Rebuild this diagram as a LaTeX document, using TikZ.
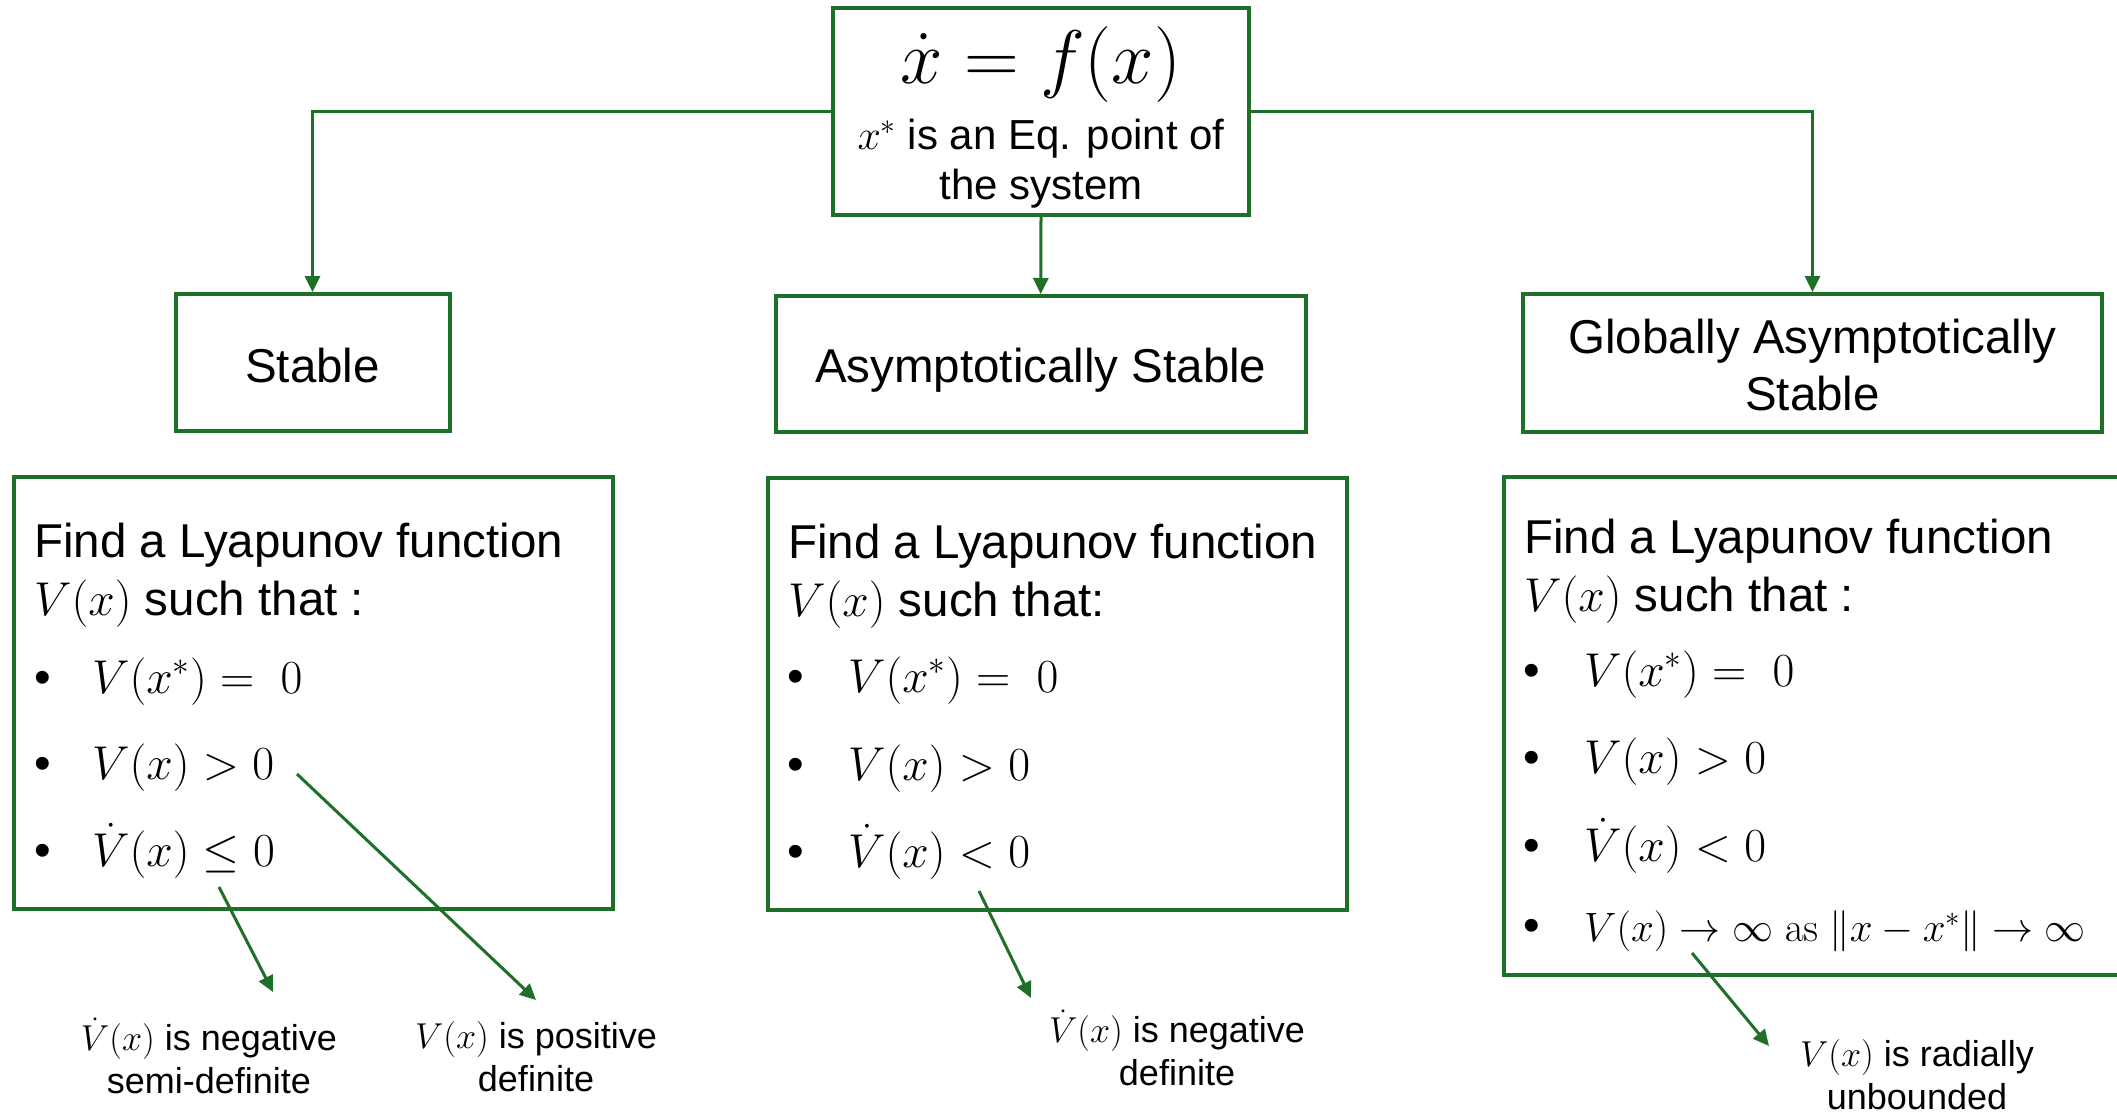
\RequirePackage{fix-cm}
\documentclass[tikz,border=0pt]{standalone}
\usepackage[no-math]{fontspec}
\setmainfont{Liberation Sans}
\usetikzlibrary{arrows.meta}
\definecolor{dgreen}{RGB}{30,112,40}
\newcommand\fmain{\fontsize{47.5}{57}\selectfont}
\newcommand\fsub{\fontsize{42}{50}\selectfont}
\newcommand\flab{\fontsize{36}{43}\selectfont}
\newcommand\feq{\fontsize{76}{88}\selectfont}
\newcommand\fsmall{\fontsize{41}{50}\selectfont}
\begin{document}
\begin{tikzpicture}[x=1pt,y=-1pt,
  gbox/.style={draw=dgreen, line width=4pt, inner sep=0pt},
  conn/.style={draw=dgreen, line width=3pt, -{Triangle[length=16pt,width=15pt]}},
  txt/.style={inner sep=0pt, anchor=base west, font=\fmain},
  bul/.style={inner sep=0pt, anchor=base, font=\fmain},
  lab/.style={inner sep=0pt, align=center, font=\flab}]
\useasboundingbox (0,0) rectangle (2117,1116);
\fill[white] (0,0) rectangle (2117,1116);

% top box
\node[gbox, minimum width=416pt, minimum height=207pt] (top) at (1041,111.5) {};
\node[inner sep=0pt, font=\feq] (eq) at (1041,65) {$\dot x = f(x)$};
\node[inner sep=0pt, align=center, font=\fsub] (eqp) at (1041,164) {$x^*$ is an Eq. point of\\the system};

% category boxes
\node[gbox, minimum width=274pt, minimum height=137pt] (st) at (312.5,362.5) {};
\node[inner sep=0pt, font=\fmain] (stt) at (312.5,366) {Stable};
\node[gbox, minimum width=529.5pt, minimum height=136pt] (as) at (1040.75,364) {};
\node[inner sep=0pt, font=\fmain] (ast) at (1040.75,370) {Asymptotically Stable};
\node[gbox, minimum width=579pt, minimum height=138pt] (gas) at (1812.5,363) {};
\node[inner sep=0pt, font=\fmain, align=center] (gast) at (1812.5,365) {Globally Asymptotically\\Stable};

\draw[conn] (top.west) -| (st.north);
\draw[conn] (top.south) -- (as.north);
\draw[conn] (top.east) -| (gas.north);

% condition boxes
\node[gbox, minimum width=599.5pt, minimum height=432pt] (f1) at (313.25,692.5) {};
\node[gbox, minimum width=579pt, minimum height=432pt] (f2) at (1057.5,694) {};
\node[gbox, minimum width=618pt, minimum height=498.5pt] (f3) at (1813,725.75) {};

% left box text
\node[txt] (f1a) at (34,557) {Find a Lyapunov function};
\node[txt] (f1b) at (34,615) {$V(x)$ such that :};
\node[bul] (f1u1) at (43,693) {\textbullet};
\node[bul] (f1u2) at (43,779) {\textbullet};
\node[bul] (f1u3) at (43,866) {\textbullet};
\node[txt] (f1c) at (92,693) {$V(x^*) =\ 0$};
\node[txt] (f1d) at (92,779) {$V(x) > 0$};
\node[txt] (f1e) at (92,866) {$\dot V(x) \le 0$};

% middle box text
\node[txt] (f2a) at (788,558) {Find a Lyapunov function};
\node[txt] (f2b) at (788,616) {$V(x)$ such that:};
\node[bul] (f2u1) at (796,692) {\textbullet};
\node[bul] (f2u2) at (796,780) {\textbullet};
\node[bul] (f2u3) at (796,867) {\textbullet};
\node[txt] (f2c) at (848,692) {$V(x^*) =\ 0$};
\node[txt] (f2d) at (848,780) {$V(x) > 0$};
\node[txt] (f2e) at (848,867) {$\dot V(x) < 0$};

% right box text
\node[txt] (f3a) at (1524,553) {Find a Lyapunov function};
\node[txt] (f3b) at (1524,611) {$V(x)$ such that :};
\node[bul] (f3u1) at (1532,686) {\textbullet};
\node[bul] (f3u2) at (1532,773) {\textbullet};
\node[bul] (f3u3) at (1532,861) {\textbullet};
\node[bul] (f3u4) at (1532,941) {\textbullet};
\node[txt] (f3c) at (1584,686) {$V(x^*) =\ 0$};
\node[txt] (f3d) at (1584,773) {$V(x) > 0$};
\node[txt] (f3e) at (1584,861) {$\dot V(x) < 0$};
\node[txt, font=\fsmall] (f3f) at (1584,941) {$V(x) \to \infty\ \mathrm{as}\ \|x - x^*\| \to \infty$};

% labels
\node[lab] (l1) at (209,1056) {$\dot V(x)$ is negative\\semi-definite};
\node[lab] (l2) at (536,1057) {$V(x)$ is positive\\definite};
\node[lab] (l3) at (1177,1048) {$\dot V(x)$ is negative\\definite};
\node[lab] (l4) at (1917,1075) {$V(x)$ is radially\\unbounded};

% pointer arrows
\coordinate (p1s) at (219,887); \coordinate (p1e) at (273,992);
\coordinate (p2s) at (297,774); \coordinate (p2e) at (536,1000);
\coordinate (p3s) at (979,891); \coordinate (p3e) at (1031,998);
\coordinate (p4s) at (1692,953); \coordinate (p4e) at (1769,1046);
\draw[conn] (p1s) -- (p1e);
\draw[conn] (p2s) -- (p2e);
\draw[conn] (p3s) -- (p3e);
\draw[conn] (p4s) -- (p4e);
\end{tikzpicture}
\end{document}
